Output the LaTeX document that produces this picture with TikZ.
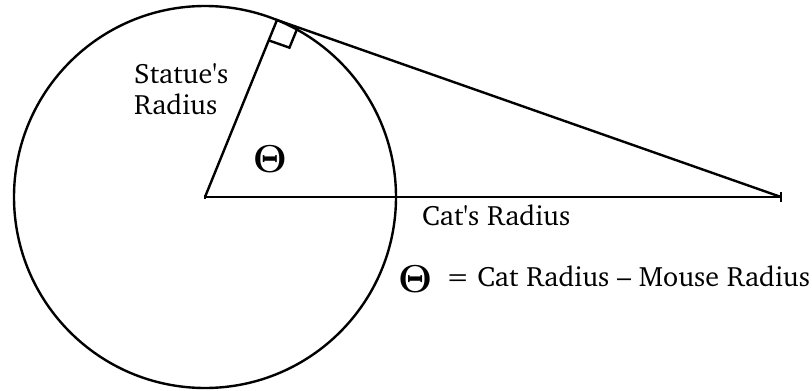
\RequirePackage{fix-cm}
\documentclass[tikz,border=0pt]{standalone}
\usepackage[T1]{fontenc}
\usepackage{charter}
\usetikzlibrary{calc}
\tikzset{lbl/.style={inner sep=0pt,font=\fontsize{28}{31}\selectfont},
  theta/.style={inner sep=0pt,font=\fontsize{39}{41}\selectfont}}
\begin{document}
\begin{tikzpicture}[x=1pt,y=-1pt,line width=2.4pt]
\useasboundingbox (0,0) rectangle (812,391);
\def\xO{205};
\def\yO{197};
\def\rO{191pt};
\coordinate (O) at (\xO,\yO);
\coordinate (T) at (277,20);
\coordinate (D) at (781,\yO);
\draw (O) circle (\rO);
\draw (O) -- (T) -- (D);
\draw[line width=2.8pt] (O) -- (D);
% right angle mark
\coordinate (A) at ($(T)!22pt!(O)$);
\coordinate (B) at ($(T)!22pt!(D)$);
\draw (A) -- ($(A)+(B)-(T)$) -- (B);
% ticks
\draw ($(D)+(0,-5)$) -- ($(D)+(0,5)$);
\draw ($(O)+(0,-2)$) -- ($(O)+(0,2)$);
\node[lbl,anchor=north west,align=left] (statue) at (133,62) {Statue\textquotesingle s\\Radius};
\node[lbl,anchor=base west] (cat) at (421,225) {Cat\textquotesingle s Radius};
\node[theta] (angle) at (270,159) {$\mathbf{\Theta}$};
\node[theta,anchor=west] (sym) at (397,279) {$\mathbf{\Theta}$};
\node[lbl,anchor=base west] (eq) at (445,286) {= Cat Radius -- Mouse Radius};
\end{tikzpicture}
\end{document}
